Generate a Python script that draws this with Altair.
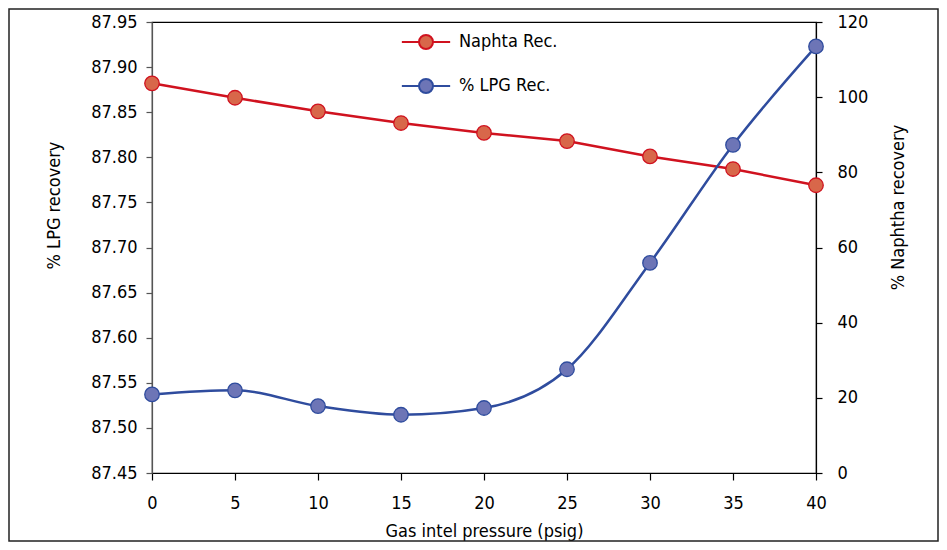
import altair as alt
import pandas as pd

# ---- data ----
pressure = [0, 5, 10, 15, 20, 25, 30, 35, 40]
naphtha_rec = [87.882, 87.866, 87.851, 87.838, 87.827, 87.818, 87.801, 87.787, 87.769]
lpg_rec = [20.9, 22.0, 17.8, 15.5, 17.3, 27.6, 55.9, 87.3, 113.5]
series_names = ["Naphta Rec.", "% LPG Rec."]
left_ticks = [87.45, 87.50, 87.55, 87.60, 87.65, 87.70, 87.75, 87.80, 87.85, 87.90, 87.95]
right_ticks = [0, 20, 40, 60, 80, 100, 120]
x_ticks = [0, 5, 10, 15, 20, 25, 30, 35, 40]

line_colors = ["#d0121f", "#2f4c9e"]
point_fills = ["#d8674a", "#6d75b6"]
FONT = "DejaVu Sans Condensed"

df_red = pd.DataFrame({"p": pressure, "v": naphtha_rec, "series": series_names[0]})
df_blue = pd.DataFrame({"p": pressure, "w": lpg_rec, "series": series_names[1]})

stroke_scale = alt.Scale(domain=series_names, range=line_colors)
fill_scale = alt.Scale(domain=series_names, range=point_fills)

LEGEND_PATH = "M-3.45,0L-1,0M1,0L3.45,0M-1,0A1,1,0,1,1,1,0A1,1,0,1,1,-1,0Z"
legend = alt.Legend(
    title=None, orient="none", legendX=265, legendY=11, padding=0,
    symbolType=LEGEND_PATH, symbolSize=196, symbolStrokeWidth=2,
    labelFont=FONT, labelFontSize=18, labelColor="black", labelOffset=24,
    rowPadding=22,
)

x_enc = alt.X(
    "p:Q",
    scale=alt.Scale(domain=[0, 40], nice=False),
    axis=alt.Axis(
        values=x_ticks, title="Gas intel pressure (psig)", tickSize=7,
        labelPadding=14, domainColor="black", tickColor="black",
        titleY=58, titleBaseline="middle", grid=False, labelFlush=False,
    ),
)

y_left = alt.Y(
    "v:Q",
    scale=alt.Scale(domain=[87.45, 87.95], nice=False, zero=False),
    axis=alt.Axis(
        values=left_ticks, format=".2f", title="% LPG recovery", tickSize=6,
        labelPadding=9, domainColor="#555555", tickColor="#555555",
        titleX=-98, titleY=183, titleAlign="center", titleBaseline="middle",
        grid=False, labelFlush=False,
    ),
)

y_right = alt.Y(
    "w:Q",
    scale=alt.Scale(domain=[0, 120], nice=False),
    axis=alt.Axis(
        orient="right", values=right_ticks, title="% Naphtha recovery",
        tickSize=6, labelPadding=15, domainColor="black", tickColor="black",
        titleX=82, titleY=185, titleAngle=270, titleAlign="center",
        titleBaseline="middle", grid=False, labelFlush=False,
    ),
)

stroke_enc = alt.Stroke("series:N", scale=stroke_scale, legend=legend)
fill_enc = alt.Fill("series:N", scale=fill_scale, legend=legend)

red_line = alt.Chart(df_red).mark_line(strokeWidth=2.5).encode(
    x=x_enc, y=y_left, stroke=stroke_enc
)
red_pts = alt.Chart(df_red).mark_point(
    filled=True, size=210, strokeWidth=1.3, opacity=1
).encode(x=x_enc, y=y_left, stroke=stroke_enc, fill=fill_enc)

blue_line = alt.Chart(df_blue).mark_line(
    strokeWidth=2.5, interpolate="monotone"
).encode(x=x_enc, y=y_right, stroke=stroke_enc)
blue_pts = alt.Chart(df_blue).mark_point(
    filled=True, size=210, strokeWidth=1.3, opacity=1
).encode(x=x_enc, y=y_right, stroke=stroke_enc, fill=fill_enc)

red = alt.layer(red_line, red_pts)
blue = alt.layer(blue_line, blue_pts)

frame = alt.Chart(alt.Data(values=[{"f": 1}])).mark_rect(
    filled=False, stroke="#222222", strokeWidth=1.5
).encode(
    x=alt.value(-143), x2=alt.value(786), y=alt.value(-13), y2=alt.value(519)
)

chart = alt.layer(red, blue, frame).resolve_scale(y="independent").properties(
    width=664, height=451,
    background="white",
    autosize=alt.AutoSizeParams(type="none"),
    padding={"left": 144, "top": 14, "right": 123, "bottom": 69},
).configure_axis(
    grid=False, labelFont=FONT, labelFontSize=18, labelColor="black",
    titleFont=FONT, titleFontSize=18, titleFontWeight="normal", titleColor="black",
    domainWidth=1.2, tickWidth=1.2,
).configure_view(
    stroke="black", strokeWidth=1.2
)

chart.save("out.html", embed_options={"renderer": "svg", "actions": False})
